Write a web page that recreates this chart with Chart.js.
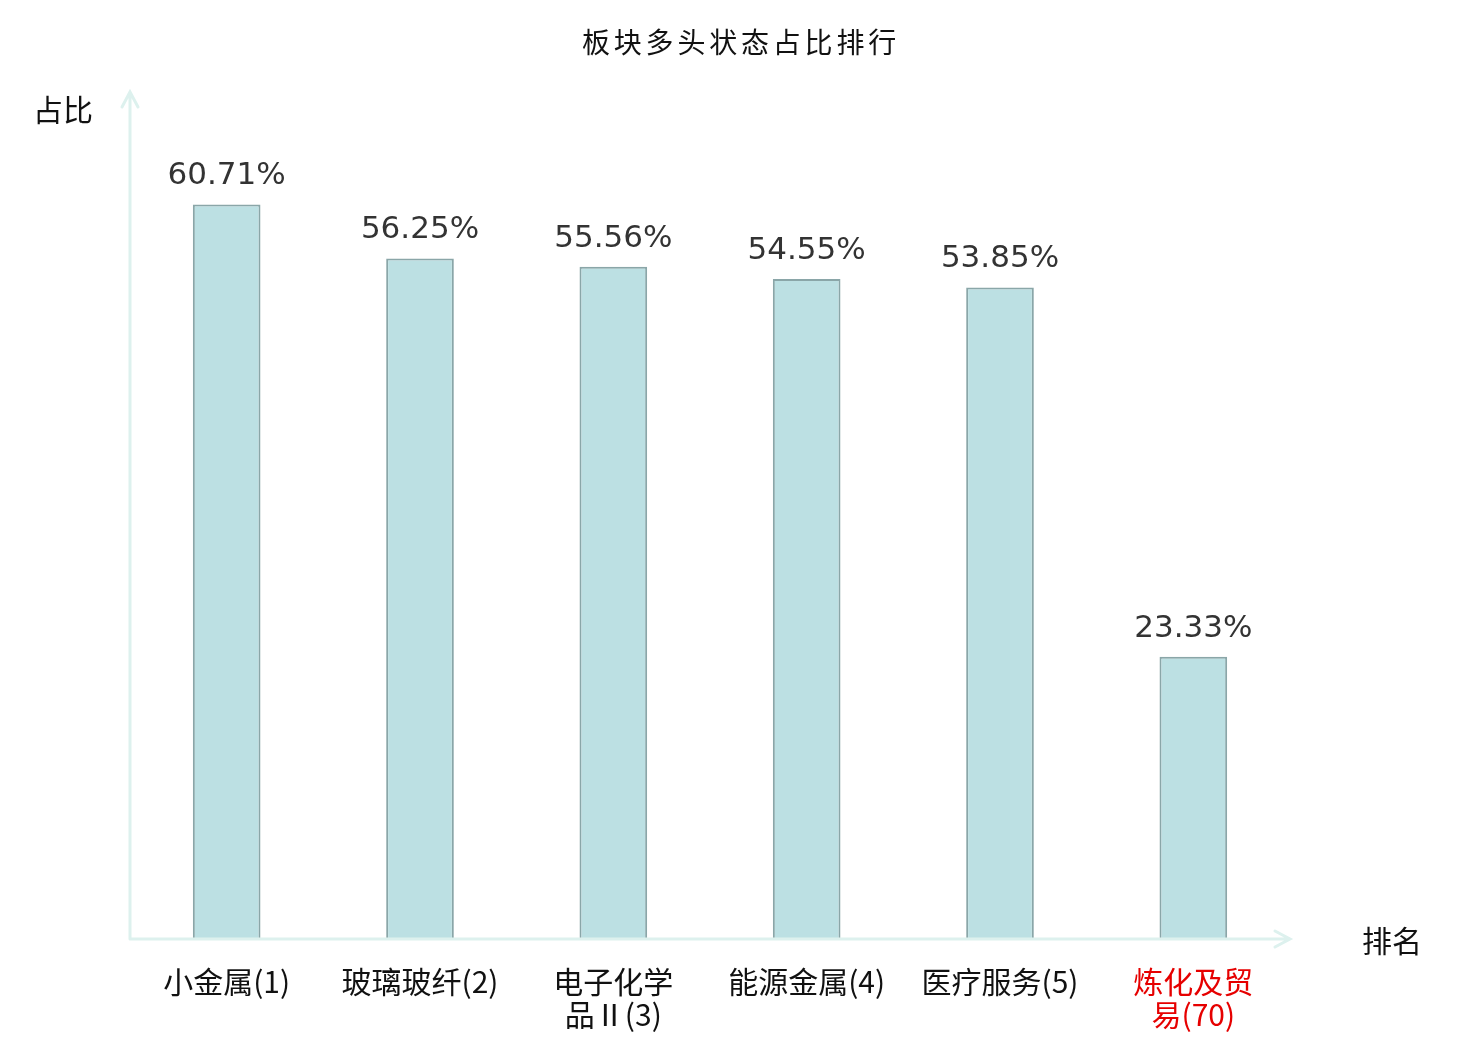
<!DOCTYPE html>
<html><head><meta charset="utf-8">
<script src="https://cdn.jsdelivr.net/npm/chart.js@4"></script>
<style>html,body{margin:0;padding:0;background:#fff;}canvas{display:block;}</style>
</head><body>
<canvas id="c" width="1480" height="1040"></canvas>
<script>
const categories = [["小金属(1)"], ["玻璃玻纤(2)"], ["电子化学", "品Ⅱ(3)"], ["能源金属(4)"], ["医疗服务(5)"], ["炼化及贸", "易(70)"]];
const values = [60.71, 56.25, 55.56, 54.55, 53.85, 23.33];
const valueLabels = ["60.71%", "56.25%", "55.56%", "54.55%", "53.85%", "23.33%"];
const highlightIndex = 5;
const titleText = "板块多头状态占比排行";
const yName = "占比";
const xName = "排名";

const CJK = '"Noto Sans CJK SC", sans-serif';
const AXIS_COLOR = '#ddf1ee';

const decor = {
  id: 'decor',
  afterDraw(chart) {
    const ctx = chart.ctx, a = chart.chartArea;
    ctx.save();
    ctx.strokeStyle = AXIS_COLOR;
    ctx.lineWidth = 3;
    ctx.lineCap = 'round';
    ctx.beginPath();
    ctx.moveTo(a.left, a.bottom); ctx.lineTo(a.left, a.top);
    ctx.moveTo(a.left - 8, a.top + 15); ctx.lineTo(a.left, a.top); ctx.lineTo(a.left + 8, a.top + 15);
    ctx.moveTo(a.left, a.bottom); ctx.lineTo(a.right, a.bottom);
    ctx.moveTo(a.right - 15, a.bottom - 8); ctx.lineTo(a.right, a.bottom); ctx.lineTo(a.right - 15, a.bottom + 8);
    ctx.stroke();
    const meta = chart.getDatasetMeta(0);
    ctx.fillStyle = '#333333';
    ctx.font = '31px "DejaVu Sans"';
    ctx.textAlign = 'center';
    ctx.textBaseline = 'middle';
    meta.data.forEach((bar, i) => {
      ctx.fillText(valueLabels[i], bar.x, bar.y - 28);
    });
    ctx.fillStyle = '#111';
    ctx.font = '28px ' + CJK;
    ctx.letterSpacing = '3.8px';
    ctx.fillText(titleText, 741, 42);
    ctx.letterSpacing = '0px';
    ctx.font = '30px ' + CJK;
    ctx.fillText(yName, 63, 110);
    ctx.fillText(xName, 1392, 941);
    ctx.restore();
  }
};

new Chart(document.getElementById('c'), {
  type: 'bar',
  data: {
    labels: categories,
    datasets: [{
      data: values,
      backgroundColor: '#bce0e3',
      borderColor: '#8aa6a8',
      borderWidth: 2,
      barPercentage: 0.35,
      categoryPercentage: 1.0
    }]
  },
  options: {
    responsive: false,
    devicePixelRatio: 1,
    animation: false,
    layout: { padding: { left: 130, right: 190, top: 92, bottom: 0 } },
    plugins: { legend: { display: false }, title: { display: false }, tooltip: { enabled: false } },
    scales: {
      y: { display: false, min: 0, max: 70 },
      x: {
        grid: { display: false, drawTicks: false },
        border: { display: false },
        afterFit(s) { s.height = 101; },
        ticks: {
          padding: 27,
          maxRotation: 0,
          autoSkip: false,
          font: { family: '"Noto Sans CJK SC"', size: 30, lineHeight: 1.07 },
          color: (c) => c.index === highlightIndex ? '#e60000' : '#111'
        }
      }
    }
  },
  plugins: [decor]
});
</script>
</body></html>
